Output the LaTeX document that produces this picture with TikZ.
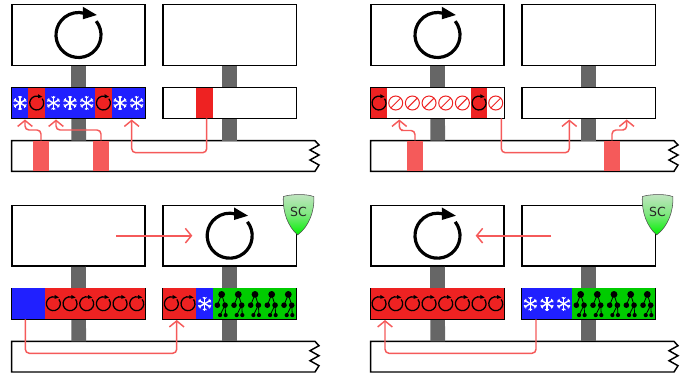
\documentclass[tikz,border=0pt]{standalone}
\usepackage{fontspec}
\setsansfont{DejaVu Sans}
\usetikzlibrary{arrows.meta}
\definecolor{queueBlue}{HTML}{2020FF}
\definecolor{queueRed}{HTML}{EE2222}
\definecolor{queueGreen}{HTML}{00CC00}
\definecolor{memPink}{HTML}{F55A5A}
\definecolor{stickGray}{HTML}{666666}
\definecolor{shieldTop}{HTML}{C4E4C4}
\definecolor{shieldMid}{HTML}{80E880}
\definecolor{shieldLow}{HTML}{00F000}
\tikzset{
  coreBox/.style={draw,line width=1.1pt,fill=white,inner sep=0pt,
    minimum width=100pt,minimum height=45.5pt},
  queueBox/.style={draw,line width=.9pt,fill=white,inner sep=0pt,
    minimum width=100pt,minimum height=23pt},
  stickLine/.style={stickGray,line width=11pt},
  cellNode/.style={inner sep=0pt,minimum width=12.5pt,minimum height=23pt},
  memBlock/.style={fill=memPink,inner sep=0pt,minimum width=12pt,minimum height=23pt},
  memArrow/.style={memPink,line width=1.1pt,rounded corners=3pt,
    -{Straight Barb[length=4.5pt,width=11pt,line width=1.1pt]}},
  % one fill per kind of cell
  noneCell/.style={},
  blueCell/.style={fill=queueBlue},
  redCell/.style={fill=queueRed},
  snowCell/.style={fill=queueBlue},
  loopCell/.style={fill=queueRed},
  stopCell/.style={},
  treeCell/.style={fill=queueGreen},
  % icons, y runs downwards
  noneIcon/.pic={},
  blueIcon/.pic={},
  redIcon/.pic={},
  spinIcon/.pic={
    \draw (-38:22.5) arc[start angle=-38,end angle=285,radius=22.5];
    \fill (4.3,-28.3) -- (18.3,-20) -- (4.3,-15.7) -- cycle;
  },
  loopIcon/.pic={
    \pic[scale=.31,line width=.95pt] {spinIcon};
  },
  snowIcon/.pic={
    \foreach \a in {90,150,210,270,330,30} {
      \draw[white,line width=1.05pt] (0,0) -- (\a:6.9);
      \draw[white,line width=.7pt] (\a:4.8) -- ++(\a+48:2.4) (\a:4.8) -- ++(\a-48:2.4);
    }
  },
  stopIcon/.pic={
    \draw[queueRed,line width=.75pt,fill=white] (0,0) circle (7);
    \draw[queueRed,line width=.75pt] (-4.9,4.9) -- (4.9,-4.9);
  },
  treeIcon/.pic={
    \draw[line width=.6pt] (-4,1.5) -- (.3,-9.3) -- (3.7,1.5) (-1.3,11.4) -- (3.7,1.5) -- (4.3,11.4);
    \fill (.3,-9.3) circle (3.4) (-4,1.5) circle (2.8) (3.7,1.5) circle (2.8)
      (-1.3,11.4) circle (2.1) (4.3,11.4) circle (2.1);
  },
  shieldIcon/.pic={
    \draw[draw=black!70,line width=.4pt,top color=shieldTop,bottom color=shieldLow,middle color=shieldMid]
      (-13.8,-8) .. controls (-9,-10) and (8,-11.5) .. (16.8,-8)
      .. controls (17.5,6) and (12,22) .. (0.5,30.3)
      .. controls (-9,22) and (-14.5,8) .. cycle;
    \node (label) at (1.3,7) [font=\sffamily\fontsize{9.4}{10}\selectfont,text=black!85] {SC};
  }
}
\newcommand{\queuecells}[4]{
  \foreach \kind [count=\n] in {#4}
  {
    \node (#1-\n) at ({#2+16.67*(\n-.5)},#3) [cellNode,\kind Cell] {};
    \pic at (#1-\n) {\kind Icon};
  }
}
\begin{document}
\begin{tikzpicture}[x=.75pt,y=-.75pt]
\useasboundingbox (0,0) rectangle (699,381);
%% the four panels
\foreach \panelname/\x/\y in {a/0/0, b/359/0, c/0/200.7, d/359/200.7}
{
  \begin{scope}[shift={(\x,\y)}]
  \node (\panelname core1) at (78.5,35) [coreBox] {};
  \node (\panelname core2) at (229.7,35) [coreBox] {};
  \draw[line width=1.1pt,fill=white] (11.7,140.7) -- (315,140.7) -- (319,145) -- (310,150)
    -- (319,155) -- (310,160) -- (319,165) -- (315,171.3) -- (11.7,171.3) -- cycle;
  \coordinate (\panelname bus1) at (78.7,140.7);
  \coordinate (\panelname bus2) at (229.7,140.7);
  \draw[stickLine] (\panelname core1.south) -- (\panelname bus1);
  \draw[stickLine] (\panelname core2.south) -- (\panelname bus2);
  \node (\panelname queue1) at (78.5,103) [queueBox] {};
  \node (\panelname queue2) at (229.7,103) [queueBox] {};
  \end{scope}
}
%% queue contents
\queuecells{a1}{11.7}{103}{snow,loop,snow,snow,snow,loop,snow,snow}
\queuecells{a2}{163}{103}{none,none,red,none,none,none,none,none}
\queuecells{b1}{370.7}{103}{loop,stop,stop,stop,stop,stop,loop,stop}
\queuecells{c1}{11.7}{303.7}{blue,blue,loop,loop,loop,loop,loop,loop}
\queuecells{c2}{163}{303.7}{loop,loop,snow,tree,tree,tree,tree,tree}
\queuecells{d1}{370.7}{303.7}{loop,loop,loop,loop,loop,loop,loop,loop}
\queuecells{d2}{522}{303.7}{snow,snow,snow,tree,tree,tree,tree,tree}
%% memory blocks
\foreach \blockname/\x/\y in {aa/41/156, ab/101/156, ba/415/156, bb/612/156}
{
  \node (\blockname) at (\x,\y) [memBlock] {};
}
%% big icons and shields
\pic[line width=2.4pt] at (acore1) {spinIcon};
\pic[line width=2.4pt] at (bcore1) {spinIcon};
\pic[line width=2.4pt] at (ccore2) {spinIcon};
\pic[line width=2.4pt] at (dcore1) {spinIcon};
\pic (cshield) at (ccore2.north east) {shieldIcon};
\pic (dshield) at (dcore2.north east) {shieldIcon};
%% free ends of the arrows
\foreach \tipname/\x/\y in {
  ta/25/119.5, tb/56/119.5, tc/131.7/119.5, td/399.3/119.5, te/569.3/119.5, tf/626.7/119.5,
  tg/176.7/320, th/385/320, si/206.7/118.3, sj/501.3/118.3, sk/25.3/319.3, sl/536/319.3,
  sm/116/235.7, tm/192.3/235.7, sn/551/235.7, tn/475.7/235.7}
{
  \coordinate (\tipname) at (\x,\y);
}
%% arrows
\draw[memArrow] (aa.north) |- (33,130) -| (ta);
\draw[memArrow] (ab.north) |- (78,130) -| (tb);
\draw[memArrow] (si) |- (170,152.7) -| (tc);
\draw[memArrow] (ba.north) |- (405,130.5) -| (td);
\draw[memArrow] (sj) |- (535,152.7) -| (te);
\draw[memArrow] (bb.north) |- (620,130) -| (tf);
\draw[memArrow] (sk) |- (100,353.3) -| (tg);
\draw[memArrow] (sl) |- (460,353.3) -| (th);
\draw[memArrow,sharp corners,line width=1.3pt] (sm) -- (tm);
\draw[memArrow,sharp corners,line width=1.3pt] (sn) -- (tn);
\end{tikzpicture}
\end{document}
